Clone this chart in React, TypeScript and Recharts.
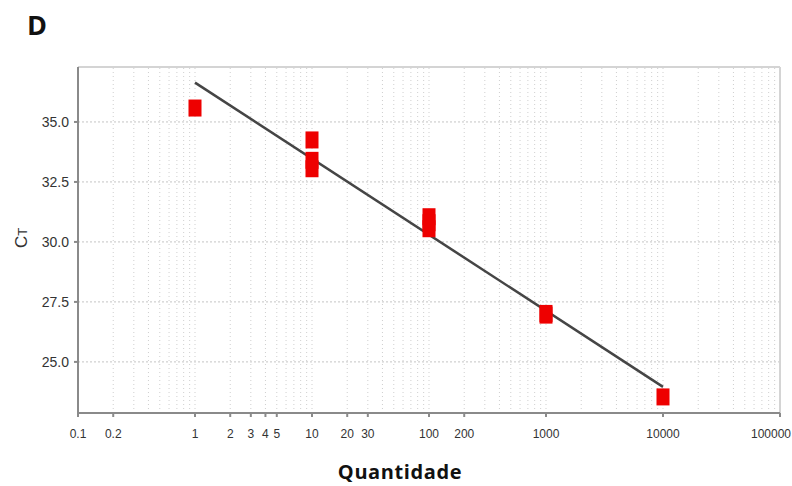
import { ScatterChart, Scatter, XAxis, YAxis, ReferenceLine } from 'recharts';

// log-scale standard curve: quantity vs Ct
const replicates = [
  { q: 1, ct: 35.58 },
  { q: 10, ct: 34.25 },
  { q: 10, ct: 33.4 },
  { q: 10, ct: 33.05 },
  { q: 100, ct: 31.05 },
  { q: 100, ct: 30.8 },
  { q: 100, ct: 30.55 },
  { q: 1000, ct: 27.02 },
  { q: 1000, ct: 26.95 },
  { q: 10000, ct: 23.54 },
];

const fitLine = [
  { q: 1, ct: 36.64 },
  { q: 10000, ct: 23.96 },
];

const xTicks = [0.1, 0.2, 1, 2, 3, 4, 5, 10, 20, 30, 100, 200, 1000, 10000, 100000];
const yTicks = [25, 27.5, 30, 32.5, 35];
const decades = [0.1, 1, 10, 100, 1000, 10000];
const minorSteps = [1, 2, 3, 4, 5, 6, 7, 8, 9];

const X_DOMAIN: [number, number] = [0.1, 100000];
const Y_DOMAIN: [number, number] = [22.87, 37.29];

const gridX = decades
  .flatMap((d) => minorSteps.map((k) => +(k * d).toPrecision(3)))
  .concat([100000]);

const TICK_FONT = '"Liberation Sans", Arial, sans-serif';

function RedSquare(props: any) {
  const { cx, cy } = props;
  if (cx == null || cy == null) return null;
  return <rect x={cx - 6.5} y={cy - 8.5} width={13} height={17} fill="#ee0000" />;
}

// last label sits against the right edge, so anchor it at its end
function QuantityTick(props: any) {
  const { x, y, payload } = props;
  const last = payload.value === X_DOMAIN[1];
  return (
    <text
      x={last ? 791 : x}
      y={y}
      dy="0.71em"
      textAnchor={last ? 'end' : 'middle'}
      fontFamily={TICK_FONT}
      fontSize={12}
      fill="#333"
    >
      {String(payload.value)}
    </text>
  );
}

export default function App() {
  return (
    <div style={{ position: 'absolute', left: 0, top: 0, width: 792, height: 486, background: '#fff' }}>
      <div
        style={{
          position: 'absolute',
          left: 27,
          top: 6,
          fontFamily: '"Open Sans", sans-serif',
          fontWeight: 700,
          fontSize: 27,
          color: '#111',
        }}
      >
        D
      </div>
      <ScatterChart width={792} height={486} margin={{ top: 67, right: 12, bottom: 43, left: 18 }}>
        {gridX.map((v) => (
          <ReferenceLine key={'gx' + v} x={v} stroke="#cfcfcf" strokeDasharray="1 3" />
        ))}
        {yTicks.map((v) => (
          <ReferenceLine key={'gy' + v} y={v} stroke="#c4c4c4" strokeDasharray="2 2" />
        ))}
        <ReferenceLine y={Y_DOMAIN[1]} stroke="#d4d4d4" strokeWidth={2} />
        <ReferenceLine x={X_DOMAIN[1]} stroke="#d4d4d4" strokeWidth={2} />
        <XAxis
          type="number"
          dataKey="q"
          scale="log"
          domain={X_DOMAIN}
          allowDataOverflow
          ticks={xTicks}
          interval={0}
          height={30}
          tickSize={4}
          tickMargin={12}
          stroke="#8a8a8a"
          strokeWidth={2}
          tick={<QuantityTick />}
        />
        <YAxis
          type="number"
          dataKey="ct"
          domain={Y_DOMAIN}
          allowDataOverflow
          ticks={yTicks}
          interval={0}
          tickFormatter={(v: number) => v.toFixed(1)}
          width={60}
          tickSize={4}
          tickMargin={5}
          stroke="#8a8a8a"
          strokeWidth={2}
          tick={{ fontFamily: TICK_FONT, fill: '#333', fontSize: 14 }}
        />
        <Scatter
          data={fitLine}
          line={{ stroke: '#454545', strokeWidth: 2.5 }}
          shape={() => null}
          isAnimationActive={false}
        />
        <Scatter data={replicates} shape={RedSquare} isAnimationActive={false} />
      </ScatterChart>
      <div
        style={{
          position: 'absolute',
          left: 12,
          top: 238,
          transform: 'translate(-50%, -50%) rotate(-90deg)',
          marginLeft: 10,
          fontFamily: TICK_FONT,
          fontSize: 17,
          color: '#333',
          whiteSpace: 'nowrap',
        }}
      >
        C<span style={{ fontSize: 13 }}>T</span>
      </div>
      <div
        style={{
          position: 'absolute',
          left: 400,
          top: 458,
          transform: 'translateX(-50%)',
          fontFamily: '"Open Sans", sans-serif',
          fontWeight: 700,
          fontSize: 20,
          letterSpacing: 0.6,
          color: '#111',
          whiteSpace: 'nowrap',
        }}
      >
        Quantidade
      </div>
    </div>
  );
}
